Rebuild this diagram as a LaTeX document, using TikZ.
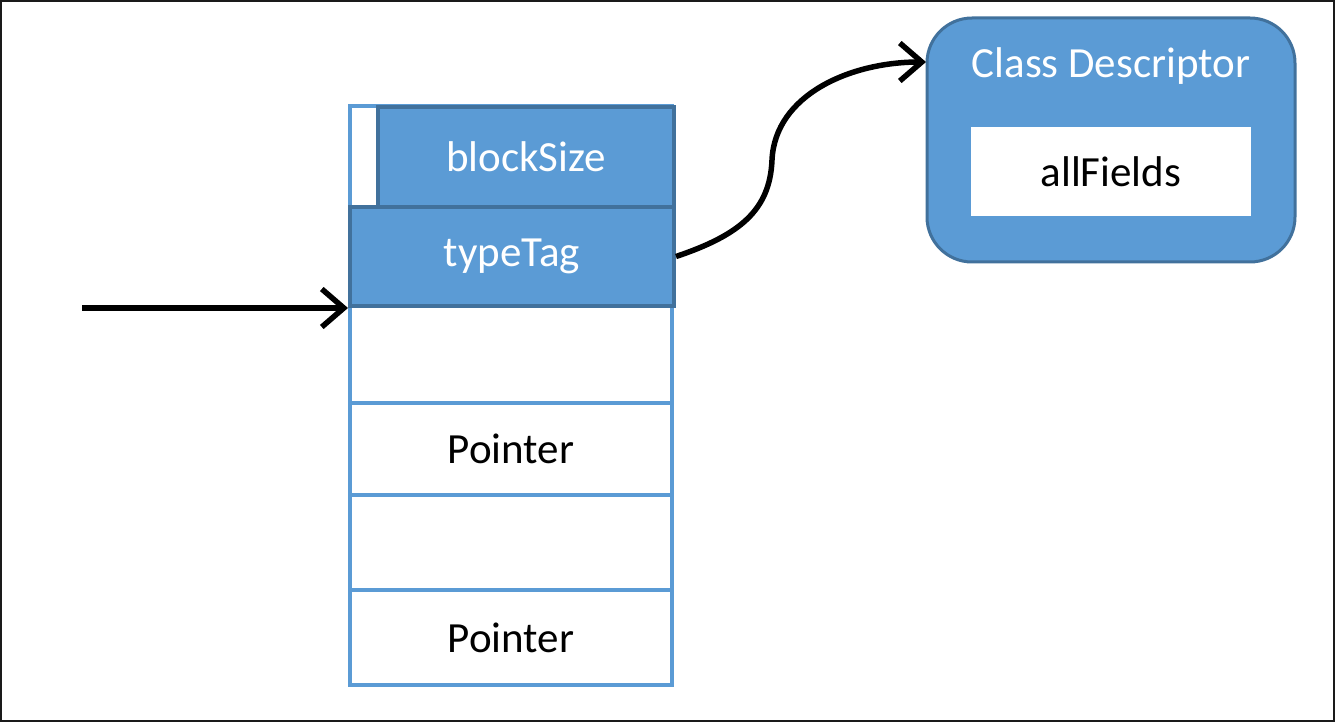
\documentclass[tikz,border=0pt]{standalone}
\usepackage{fontspec}
\setmainfont{Carlito}
\usetikzlibrary{arrows.meta}
\definecolor{fillblue}{HTML}{5B9BD5}
\definecolor{darkblue}{HTML}{41719C}
\definecolor{frame}{HTML}{1A1A1A}
\tikzset{
  cell/.style={draw=fillblue, line width=1.75pt, fill=white, inner sep=0pt, minimum width=161pt, text=black},
  darkcell/.style={draw=darkblue, line width=2pt, fill=fillblue, inner sep=0pt, text=white},
  conn/.style={line width=2.75pt, black, -{Straight Barb[length=11pt,width=19pt,line width=2.75pt]}},
}
\begin{document}
\begin{tikzpicture}[x=0.5pt, y=-0.5pt, font=\fontsize{21.5}{25}\selectfont]
\useasboundingbox (0,0) rectangle (1335,722);
\draw[frame, line width=1pt] (1,1) rectangle (1334,721);
% column outline and light cells
\node[cell, minimum height=50.5pt] (strip) at (511,156.5) {};
\node[cell, minimum height=48.5pt] (c1) at (511,354.5) {};
\node[cell, minimum height=46pt] (p1) at (511,449) {Pointer};
\node[cell, minimum height=47.5pt] (c2) at (511,542.5) {};
\node[cell, minimum height=47.5pt] (p2) at (511,637.5) {Pointer};
% dark cells
\node[darkcell, minimum width=148pt, minimum height=50pt] (bs) at (526,157) {blockSize};
\node[darkcell, minimum width=162pt, minimum height=49.5pt] (tt) at (512,256.5) {typeTag};
% class descriptor
\node[draw=darkblue, line width=1.5pt, fill=fillblue, rounded corners=22.5pt, minimum width=184pt, minimum height=122pt, inner sep=0pt] (cd) at (1111,140) {};
\node[text=white] (cdtitle) at (1111,66) {Class Descriptor};
\node[fill=white, minimum width=140pt, minimum height=44.5pt, inner sep=0pt] (af) at (1111,171.5) {allFields};
% connectors
\coordinate (src) at (82,308);
\coordinate (cdin) at (926,62);
\draw[conn] (src) -- (tt.south west);
\draw[conn] (tt.east) .. controls (740,235) and (770,210) .. (772,160) .. controls (775,95) and (850,62) .. (cdin);
\end{tikzpicture}
\end{document}
